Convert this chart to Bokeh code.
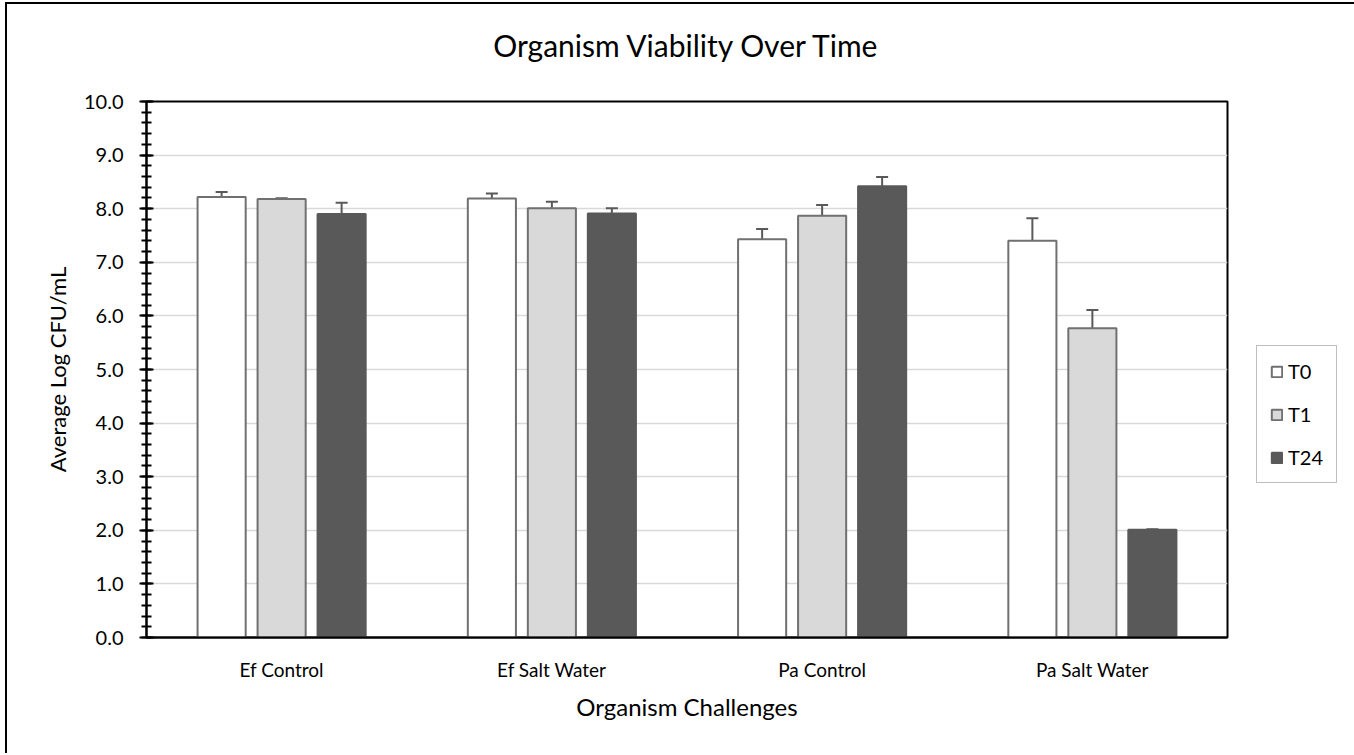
from bokeh.plotting import figure
from bokeh.models import (ColumnDataSource, FactorRange, Range1d, SingleIntervalTicker,
                          NumeralTickFormatter, Whisker, TeeHead, Legend, LegendItem, Title)
from bokeh.transform import dodge
from bokeh.embed import file_html
from bokeh.resources import INLINE

categories = ["Ef Control", "Ef Salt Water", "Pa Control", "Pa Salt Water"]
series = ["T0", "T1", "T24"]
t0 = [8.22, 8.19, 7.43, 7.40]
t0_err = [0.09, 0.095, 0.19, 0.42]
t1 = [8.18, 8.01, 7.87, 5.77]
t1_err = [0.015, 0.12, 0.20, 0.34]
t24 = [7.90, 7.91, 8.42, 2.01]
t24_err = [0.21, 0.10, 0.17, 0.01]
chart_title = "Organism Viability Over Time"

FONT = "Lato"
fills = ["#ffffff", "#d9d9d9", "#595959"]
outlines = ["#707070", "#707070", "#595959"]
offsets = [-0.222, 0.0, 0.222]

data = dict(cat=categories, T0=t0, T1=t1, T24=t24)
for name, vals, errs in [("T0", t0, t0_err), ("T1", t1, t1_err), ("T24", t24, t24_err)]:
    data[name + "_up"] = [v + e for v, e in zip(vals, errs)]
    data[name + "_lo"] = [v - e for v, e in zip(vals, errs)]
source = ColumnDataSource(data)

p = figure(x_range=FactorRange(factors=categories, range_padding=0), y_range=Range1d(0, 10),
           width=1352, height=753, frame_width=1081, frame_height=536,
           output_backend="svg", toolbar_location=None,
           min_border_left=146, min_border_right=125, min_border_top=101, min_border_bottom=116)
p.styles = {"box-shadow": ("inset 5px 0 0 0 white, inset 0 2px 0 0 white, inset -1px 0 0 0 white, "
                           "inset 7px 0 0 0 black, inset 0 4px 0 0 black, inset -3px 0 0 0 black")}

# spacer between the frame and the title, then the title itself
spacer = Title(text=" ", text_font_size="10px", standoff=21)
p.add_layout(spacer, "above")
main_title = Title(text=chart_title, text_font=FONT, text_font_size="30px", text_font_style="normal",
                   align="center", text_color="black", standoff=10)
p.add_layout(main_title, "above")

p.outline_line_color = "black"
p.outline_line_width = 2
p.background_fill_color = "white"
p.border_fill_color = None

renderers = []
for s, fc, lc, off in zip(series, fills, outlines, offsets):
    r = p.vbar(x=dodge("cat", off, range=p.x_range), top=s, width=0.178, source=source,
               fill_color=fc, line_color=lc, line_width=2)
    renderers.append(r)
for s, off in zip(series, offsets):
    w = Whisker(base=dodge("cat", off, range=p.x_range), upper=s + "_up", lower=s + "_lo",
                source=source, line_color="#595959", line_width=2,
                upper_head=TeeHead(size=12, line_color="#595959", line_width=2),
                lower_head=TeeHead(size=12, line_color="#595959", line_width=2))
    p.add_layout(w)

# axes
p.xgrid.grid_line_color = None
p.ygrid.grid_line_color = "#d9d9d9"
p.ygrid.grid_line_width = 1.5
p.yaxis.ticker = SingleIntervalTicker(interval=1, num_minor_ticks=5)
p.yaxis.formatter = NumeralTickFormatter(format="0.0")
for ax in (p.xaxis, p.yaxis):
    ax.axis_line_color = "black"
    ax.axis_line_width = 2
    ax.major_label_text_font = FONT
    ax.major_label_text_color = "black"
    ax.axis_label_text_font = FONT
    ax.axis_label_text_font_style = "normal"
    ax.axis_label_text_color = "black"
p.yaxis.major_label_text_font_size = "20px"
p.xaxis.major_label_text_font_size = "19px"
p.yaxis.major_tick_line_color = "black"
p.yaxis.major_tick_line_width = 2
p.yaxis.major_tick_in = 7
p.yaxis.major_tick_out = 7
p.yaxis.minor_tick_line_color = "black"
p.yaxis.minor_tick_line_width = 2
p.yaxis.minor_tick_in = 5
p.yaxis.minor_tick_out = 5
p.yaxis.major_label_standoff = 16
p.yaxis.axis_label = "Average Log CFU/mL"
p.yaxis.axis_label_text_font_size = "22px"
p.yaxis.axis_label_standoff = 10
p.xaxis.major_tick_line_color = None
p.xaxis.minor_tick_line_color = None
p.xaxis.major_tick_out = 0
p.xaxis.major_label_standoff = 20
p.xaxis.axis_label = "Organism Challenges"
p.xaxis.axis_label_text_font_size = "24px"
p.xaxis.axis_label_standoff = 8

legend = Legend(items=[LegendItem(label=s, renderers=[r]) for s, r in zip(series, renderers)],
                location=(29, 154), orientation="vertical")
legend.label_text_font = FONT
legend.label_text_font_size = "20px"
legend.label_text_color = "black"
legend.glyph_width = 13
legend.glyph_height = 13
legend.spacing = 19
legend.padding = 13
legend.margin = 0
legend.label_standoff = 5
legend.border_line_color = "#7f7f7f"
legend.border_line_width = 1.5
legend.background_fill_alpha = 1
p.add_layout(legend, "right")

open("out.html", "w").write(file_html(p, INLINE))
